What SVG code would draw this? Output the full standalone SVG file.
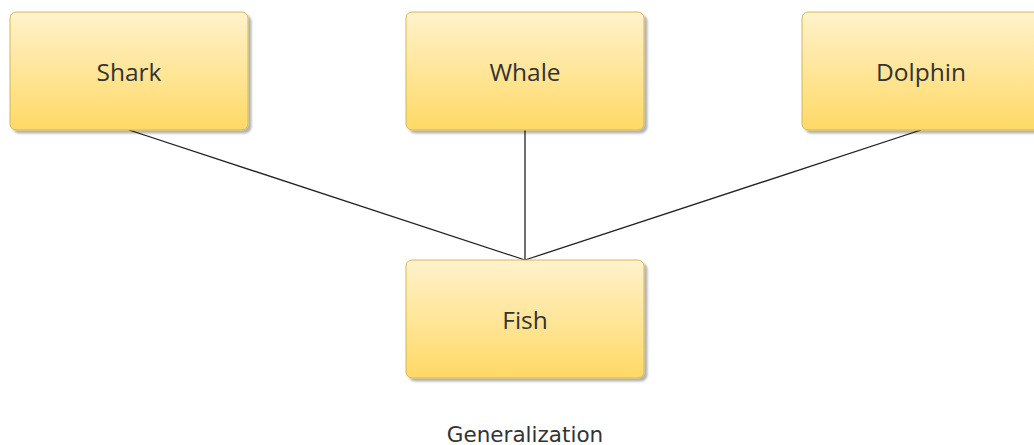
<svg xmlns="http://www.w3.org/2000/svg" width="1034" height="445" viewBox="0 0 1034 445">
<defs>
<linearGradient id="g" x1="0" y1="0" x2="0" y2="1">
<stop offset="0" stop-color="#fff2cc"/>
<stop offset="1" stop-color="#ffd966"/>
</linearGradient>
<filter id="sh" x="-10%" y="-10%" width="130%" height="130%">
<feGaussianBlur in="SourceAlpha" stdDeviation="1.2"/>
<feOffset dx="3" dy="3" result="b"/>
<feComponentTransfer><feFuncA type="linear" slope="0.3"/></feComponentTransfer>
<feMerge><feMergeNode/><feMergeNode in="SourceGraphic"/></feMerge>
</filter>
</defs>
<style>
.box{fill:url(#g);stroke:#d6b656;stroke-width:1;filter:url(#sh)}
.lbl{font-family:"Open Sans","Noto Sans",sans-serif;font-size:24.5px;fill:#333;text-anchor:middle}
.edge{stroke:#222;stroke-width:1.3;fill:none}
.cap{font-family:"DejaVu Sans",sans-serif;font-size:21.5px;fill:#333;text-anchor:middle}
</style>
<rect width="1034" height="445" fill="#fff"/>
<g id="connectors">
<line class="edge" x1="129" y1="130" x2="525" y2="260"/>
<line class="edge" x1="525" y1="130" x2="525" y2="260"/>
<line class="edge" x1="921" y1="130" x2="525" y2="260"/>
</g>
<g id="shark"><rect class="box" x="10" y="12" width="238" height="118" rx="6"/><text class="lbl" x="129" y="81">Shark</text></g>
<g id="whale"><rect class="box" x="406" y="12" width="238" height="118" rx="6"/><text class="lbl" x="525" y="81">Whale</text></g>
<g id="dolphin"><rect class="box" x="802" y="12" width="238" height="118" rx="6"/><text class="lbl" x="921" y="81">Dolphin</text></g>
<g id="fish"><rect class="box" x="406" y="260" width="238" height="118" rx="6"/><text class="lbl" x="525" y="329">Fish</text></g>
<g id="caption"><text class="cap" x="525" y="442">Generalization</text></g>
</svg>
